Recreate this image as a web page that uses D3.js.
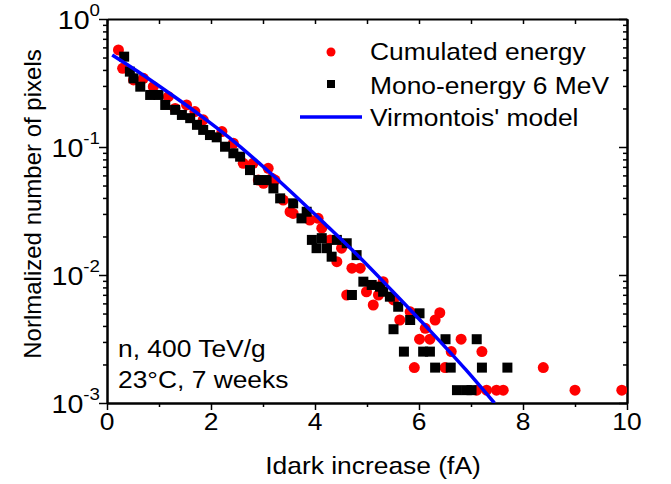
<!DOCTYPE html>
<html>
<head>
<meta charset="utf-8">
<script src="https://cdn.jsdelivr.net/npm/d3@7"></script>
<style>
  body { margin: 0; background: #fff; }
  text { font-family: "Liberation Sans", Arial, sans-serif; fill: #000; }
</style>
</head>
<body>
<svg id="plot" width="671" height="484"></svg>
<script>
// cumulated energy (red circles)
const redX = [0.22, 0.30, 0.51, 0.70, 0.89, 1.18, 1.31, 1.53, 1.69, 1.85, 2.21, 2.43, 2.62, 2.81, 3.10,
    2.91, 3.17, 3.23, 3.01, 3.39, 3.52, 3.58, 3.90, 4.06, 4.13, 4.29, 4.51, 4.42, 4.71, 4.87,
    4.61, 4.99, 5.22, 5.12, 5.31, 5.51, 5.83, 5.63, 6.12, 6.01, 6.21, 6.31, 6.40, 6.62, 6.50,
    6.81, 7.21, 5.91, 7.11, 7.30, 7.49, 7.62, 8.39, 9.00, 9.90]
const redY = [0.573, 0.412, 0.334, 0.344, 0.296, 0.247, 0.200, 0.213, 0.189, 0.163, 0.132, 0.107, 0.0746, 0.0746, 0.0682,
    0.0552, 0.0569, 0.0552, 0.052, 0.0385, 0.0312, 0.0303, 0.0269, 0.0277, 0.0232, 0.0188, 0.0162, 0.0127, 0.0113, 0.0113,
    0.00698, 0.0074, 0.00698, 0.00583, 0.00887, 0.00638, 0.00516, 0.00445, 0.00383, 0.00315, 0.00315, 0.00445, 0.00507, 0.00252, 0.00189,
    0.00315, 0.00252, 0.00189, 0.00126, 0.00126, 0.00126, 0.00126, 0.00189, 0.00126, 0.00126]

// mono-energy 6 MeV (black squares)
const blackX = [0.33, 0.44, 0.51, 0.64, 0.83, 0.99, 1.12, 1.31, 1.44, 1.60, 1.73, 1.85, 1.98, 2.11, 2.27,
    2.43, 2.56, 2.75, 2.91, 3.07, 3.20, 3.33, 3.58, 3.74, 3.84, 3.94, 4.03, 4.13, 4.23, 4.32,
    4.42, 4.61, 4.80, 4.71, 4.93, 5.09, 5.25, 5.44, 5.60, 5.51, 5.83, 6.01, 5.71, 6.08, 6.21,
    6.51, 6.31, 6.61, 6.73, 6.92, 7.01, 7.11, 7.21, 7.70, 5.31]
const blackY = [0.508, 0.388, 0.344, 0.296, 0.255, 0.255, 0.213, 0.195, 0.178, 0.168, 0.149, 0.136, 0.124, 0.119, 0.1005,
    0.0893, 0.084, 0.066, 0.0552, 0.0552, 0.0475, 0.0397, 0.0363, 0.0277, 0.0312, 0.0188, 0.0162, 0.0194, 0.0162, 0.0139,
    0.0188, 0.0177, 0.0143, 0.00698, 0.00887, 0.00836, 0.0081, 0.00677, 0.00565, 0.00377, 0.00445, 0.00502, 0.00252, 0.00252, 0.00252,
    0.00315, 0.00189, 0.00189, 0.00126, 0.00126, 0.00126, 0.00315, 0.00189, 0.00189, 0.0074]

// Virmontois' model (blue line)
const modelX = [0.1, 0.6, 1.25, 1.8, 2.35, 3.05, 3.5, 4.15, 4.8, 5.5, 6.2, 6.9, 7.45]
const modelY = [0.5236, 0.3873, 0.2547, 0.1758, 0.1183, 0.0676, 0.0462, 0.0260, 0.01452, 0.00741, 0.00372, 0.00182, 0.001]

const xTicks = [0, 2, 4, 6, 8, 10]
const xMinor = [1, 3, 5, 7, 9]
const yTicks = [1e-3, 1e-2, 1e-1, 1]
const yExp = ["-3", "-2", "-1", "0"]

const svg = d3.select("#plot")
const mLeft = 107, mRight = 627, mTop = 19, mBottom = 403
const fs = 24
const sx = 1.1   // the original text is a bit wider than Arial

const x = d3.scaleLinear().domain([0, 10]).range([mLeft, mRight])
const y = d3.scaleLog().domain([1e-3, 1]).range([mBottom, mTop])

let yMinor = []
for (let e = -3; e < 0; e++) {
    for (let m = 2; m <= 9; m++) yMinor.push(m * Math.pow(10, e))
}

function addText(px, py, str, anchor, size) {
    return svg.append("text")
        .attr("transform", `translate(${px},${py}) scale(${sx},1)`)
        .attr("text-anchor", anchor || "start")
        .attr("font-size", (size || fs) + "px")
        .text(str)
}

function styleAxis(g) {
    g.select(".domain").attr("stroke", "#000").attr("stroke-width", 2)
    g.selectAll(".tick line").attr("stroke", "#000").attr("stroke-width", 1.5)
    g.selectAll(".tick text").remove()
}

// bottom
svg.append("g").attr("transform", `translate(0,${mBottom})`)
    .call(d3.axisBottom(x).tickValues(xTicks).tickSize(7).tickSizeOuter(0)).call(styleAxis)
svg.append("g").attr("transform", `translate(0,${mBottom})`)
    .call(d3.axisBottom(x).tickValues(xMinor).tickSize(4).tickSizeOuter(0)).call(styleAxis)
// top
svg.append("g").attr("transform", `translate(0,${mTop})`)
    .call(d3.axisTop(x).tickValues(xTicks.concat(xMinor)).tickSize(-5).tickSizeOuter(0)).call(styleAxis)
// left
svg.append("g").attr("transform", `translate(${mLeft},0)`)
    .call(d3.axisLeft(y).tickValues(yTicks).tickSize(8).tickSizeOuter(0)).call(styleAxis)
svg.append("g").attr("transform", `translate(${mLeft},0)`)
    .call(d3.axisLeft(y).tickValues(yMinor).tickSize(4).tickSizeOuter(0)).call(styleAxis)
// right
svg.append("g").attr("transform", `translate(${mRight},0)`)
    .call(d3.axisRight(y).tickValues(yTicks).tickSize(-8).tickSizeOuter(0)).call(styleAxis)
svg.append("g").attr("transform", `translate(${mRight},0)`)
    .call(d3.axisRight(y).tickValues(yMinor).tickSize(-4).tickSizeOuter(0)).call(styleAxis)

// tick labels
xTicks.forEach(function(t) {
    addText(x(t), mBottom + 27, t, "middle")
})

yTicks.forEach(function(t, i) {
    const lab = addText(100, y(t) + 10, "", "end", 26)
    lab.append("tspan").text("10")
    lab.append("tspan").attr("font-size", "17px").attr("dy", -13).text(yExp[i])
})

// axis titles
addText(373, 474, "Idark increase (fA)", "middle")

svg.append("text")
    .attr("transform", "translate(41,204) rotate(-90)")
    .attr("text-anchor", "middle")
    .attr("font-size", fs + "px")
    .text("Norlmalized number of pixels")

// data
svg.append("clipPath").attr("id", "clip")
    .append("rect").attr("x", mLeft).attr("y", mTop).attr("width", mRight - mLeft).attr("height", mBottom - mTop)

const marks = svg.append("g").attr("clip-path", "url(#clip)")

marks.selectAll("circle.red")
    .data(redX)
    .enter()
    .append("circle")
        .attr("class", "red")
        .attr("cx", function(d) {return x(d)})
        .attr("cy", function(d, i) {return y(redY[i])})
        .attr("r", 5.5)
        .attr("fill", "#ff0000")

marks.selectAll("rect.black")
    .data(blackX)
    .enter()
    .append("rect")
        .attr("class", "black")
        .attr("x", function(d) {return x(d) - 5})
        .attr("y", function(d, i) {return y(blackY[i]) - 5})
        .attr("width", 10)
        .attr("height", 10)
        .attr("fill", "#000")

const line = d3.line()
    .x(function(d) {return x(d)})
    .y(function(d, i) {return y(modelY[i])})
    .curve(d3.curveMonotoneX)

marks.append("path")
    .attr("d", line(modelX))
    .attr("fill", "none")
    .attr("stroke", "#0000ff")
    .attr("stroke-width", 3.5)

// legend
const legX = 331, legText = 370
svg.append("circle").attr("cx", legX).attr("cy", 52).attr("r", 4.5).attr("fill", "#ff0000")
svg.append("rect").attr("x", legX - 4).attr("y", 80).attr("width", 8).attr("height", 8).attr("fill", "#000")
svg.append("line").attr("x1", 300).attr("x2", 362).attr("y1", 117).attr("y2", 117)
    .attr("stroke", "#0000ff").attr("stroke-width", 3.5)

const legNames = ["Cumulated energy", "Mono-energy 6 MeV", "Virmontois' model"]
const legY = [60, 94, 126]
legNames.forEach(function(n, i) {
    addText(legText, legY[i], n)
})

// annotation
addText(118, 357, "n, 400 TeV/g")
addText(118, 388, "23°C, 7 weeks")
</script>
</body>
</html>
